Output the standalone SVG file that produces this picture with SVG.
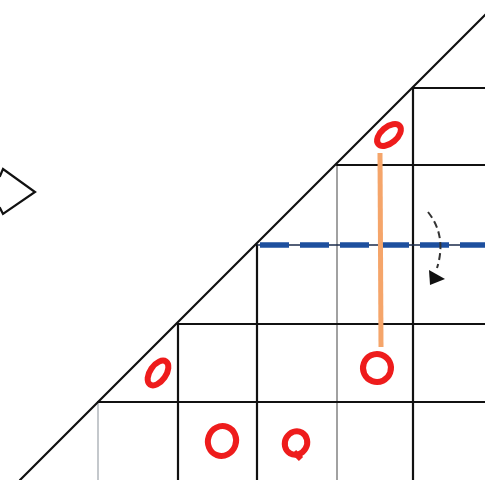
<svg xmlns="http://www.w3.org/2000/svg" width="485" height="480" viewBox="0 0 485 480">
<style>
.blk{stroke:#111;stroke-width:2.2;fill:none;stroke-linecap:round}
.gry{stroke:#8a8a8a;stroke-width:1.6;fill:none}
.lgry{stroke:#c4c8cc;stroke-width:2;fill:none}
.mark{stroke:#ee1c1c;stroke-width:6;fill:none}
</style>
<rect width="485" height="480" fill="#fff"/>
<g id="grid">
<line class="gry" x1="337" y1="165" x2="337" y2="480"/>
<line class="lgry" x1="98" y1="402" x2="98" y2="480"/>
<line class="blk" x1="413" y1="88" x2="485" y2="88"/>
<line class="blk" x1="337" y1="165" x2="485" y2="165"/>
<line class="blk" x1="178" y1="324" x2="485" y2="324"/>
<line class="blk" x1="98" y1="402" x2="485" y2="402"/>
<line class="blk" x1="413" y1="88" x2="413" y2="480"/>
<line class="blk" x1="257" y1="245" x2="257" y2="480"/>
<line class="blk" x1="178" y1="324" x2="178" y2="480"/>
<line class="blk" x1="20" y1="480" x2="487" y2="13"/>
</g>
<g id="fold-line">
<line x1="257" y1="245" x2="485" y2="245" stroke="#1a2a4a" stroke-width="1.5"/>
<line x1="260" y1="245" x2="485" y2="245" stroke="#1d4f9e" stroke-width="5.5" stroke-dasharray="29 11"/>
</g>
<g id="orange-link">
<line x1="380" y1="153" x2="381" y2="347" stroke="#f5a56a" stroke-width="5"/>
</g>
<g id="marks">
<ellipse class="mark" cx="389" cy="135" rx="8" ry="14" transform="rotate(50 389 135)"/>
<ellipse class="mark" cx="158" cy="373" rx="8" ry="14" transform="rotate(35 158 373)"/>
<ellipse class="mark" cx="377" cy="368" rx="14" ry="14" transform="rotate(20 377 368)"/>
<ellipse class="mark" cx="222" cy="441" rx="14" ry="15" transform="rotate(20 222 441)"/>
<ellipse class="mark" cx="296" cy="443" rx="11" ry="12" transform="rotate(30 296 443)"/>
<line class="mark" x1="294" y1="452" x2="301" y2="459"/>
</g>
<g id="diamond">
<path class="blk" d="M0,176 L3,169 L35,192 L3,214 L0,208"/>
</g>
<g id="connectors">
<path d="M428,212 Q447,236 437,268" stroke="#333" stroke-width="2" fill="none" stroke-dasharray="7 4"/>
<polygon points="429,270 445,279 430,285" fill="#111"/>
</g>
</svg>
